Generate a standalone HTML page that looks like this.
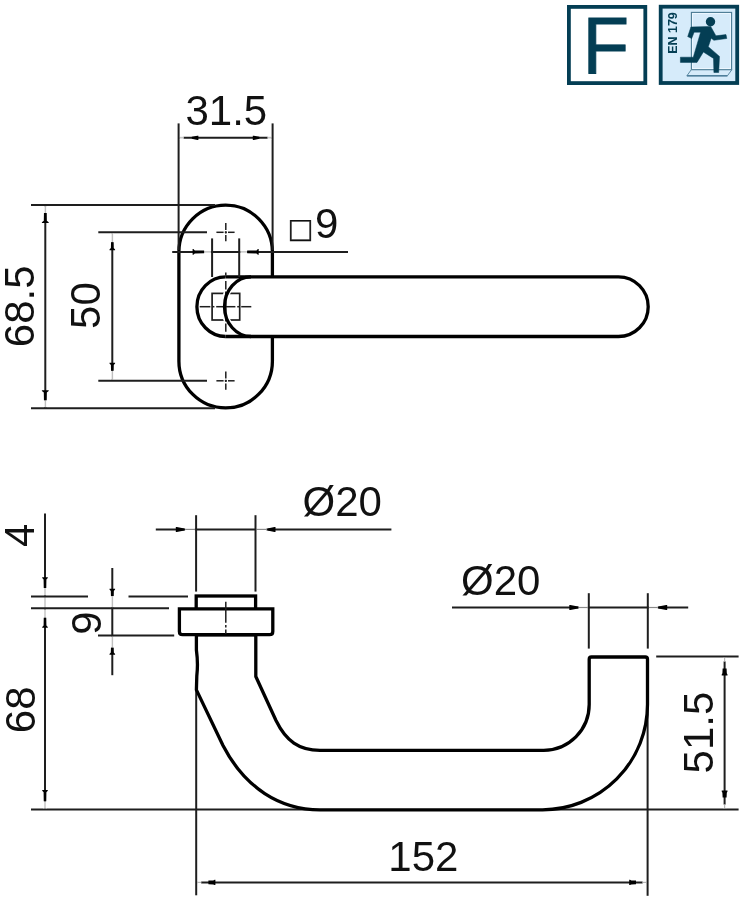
<!DOCTYPE html>
<html lang="en">
<head>
<meta charset="utf-8">
<title>Door handle technical drawing</title>
<style>
html,body{margin:0;padding:0;background:#fff;}
body{width:744px;height:902px;overflow:hidden;}
svg{display:block;font-family:'Liberation Sans', sans-serif;filter:blur(0.4px);}
</style>
</head>
<body>
<svg width="744" height="902" viewBox="0 0 744 902">
<rect width="744" height="902" fill="#fff"/>
<rect x="568.9" y="6.9" width="76.4" height="76.2" fill="#fff" stroke="#043e54" stroke-width="3.8"/>
<text transform="translate(605.9 72.6) scale(0.955 1)" font-size="80" text-anchor="middle" fill="#043e54" stroke="#043e54" stroke-width="0.8">F</text>
<rect x="660.7" y="6.7" width="76.5" height="76.3" fill="#d6ebfa" stroke="#043e54" stroke-width="3.8"/>
<rect x="691.4" y="12.4" width="40.2" height="57.2" fill="none" stroke="#4a7a93" stroke-width="1.1"/>
<rect x="692.6" y="13.6" width="37.8" height="55" fill="none" stroke="#f0faff" stroke-width="0.9"/>
<polygon points="691.2,69.8 731.8,69.8 727.4,75.8 686.9,75.8" fill="#d6ebfa" stroke="#4f7f98" stroke-width="0.9"/>
<line x1="686.9" y1="75.8" x2="727.4" y2="75.8" stroke="#4f7f9b" stroke-width="1.4"/>
<circle cx="710.5" cy="21.7" r="4.7" fill="#043e54"/>
<polygon points="690.9,27.0 710.7,26.4 715.9,35.8 726.0,34.6 726.8,38.5 713.9,40.3 711.2,38.2 708.3,46.7 719.5,56.4 718.7,72.5 713.9,72.5 713.5,58.4 703.4,52.0 697.0,62.4 680.4,62.4 680.4,57.2 693.3,57.2 700.6,32.2 694.1,32.2 691.7,38.6 687.7,36.6" fill="#043e54" stroke="#043e54" stroke-width="0.5" stroke-linejoin="round"/>
<text x="676.5" y="33" font-size="13.6" text-anchor="middle" font-weight="bold" fill="#043e54" transform="rotate(-90 676.5 33)" textLength="41.6" lengthAdjust="spacingAndGlyphs">EN 179</text>
<path d="M178.9,251.84999999999997 A46.749999999999986,46.749999999999986 0 0 1 272.4,251.84999999999997 L272.4,361.15 A46.749999999999986,46.749999999999986 0 0 1 178.9,361.15 Z" fill="#fff" stroke="#000" stroke-width="3.3"/>
<path d="M225.8,276.9 A28.9,29.80000000000001 0 0 0 225.8,336.5" fill="#fff" stroke="#000" stroke-width="3.3"/>
<path d="M225.8,276.9 L618.4,276.9 A29.80000000000001,29.80000000000001 0 0 1 618.4,336.5 L225.8,336.5" fill="#fff" stroke="#000" stroke-width="3.3"/>
<rect x="212.1" y="293.4" width="27.6" height="26.6" fill="none" stroke="#1e1e1e" stroke-width="1.7"/>
<path d="M228.5,290 A27,29.80000000000001 0 0 0 228.5,323" fill="none" stroke="#fff" stroke-width="6.5" transform="translate(0,0)"/>
<line x1="199.7" y1="306.7" x2="210.4" y2="306.7" stroke="#1e1e1e" stroke-width="1.5" />
<line x1="212.3" y1="306.7" x2="214.4" y2="306.7" stroke="#1e1e1e" stroke-width="1.5" />
<line x1="216.2" y1="306.7" x2="235.4" y2="306.7" stroke="#1e1e1e" stroke-width="1.5" />
<line x1="237.2" y1="306.7" x2="239.3" y2="306.7" stroke="#1e1e1e" stroke-width="1.5" />
<line x1="241.2" y1="306.7" x2="251.3" y2="306.7" stroke="#1e1e1e" stroke-width="1.5" />
<line x1="225.8" y1="272.4" x2="225.8" y2="275.6" stroke="#1e1e1e" stroke-width="1.5" />
<line x1="225.8" y1="281.1" x2="225.8" y2="289.4" stroke="#1e1e1e" stroke-width="1.5" />
<line x1="225.8" y1="291.5" x2="225.8" y2="294.5" stroke="#1e1e1e" stroke-width="1.5" />
<line x1="225.8" y1="296.5" x2="225.8" y2="316.5" stroke="#1e1e1e" stroke-width="1.5" />
<line x1="225.8" y1="318.5" x2="225.8" y2="321.5" stroke="#1e1e1e" stroke-width="1.5" />
<line x1="225.8" y1="323.6" x2="225.8" y2="331.8" stroke="#1e1e1e" stroke-width="1.5" />
<path d="M251.0,276.9 A26.5,29.80000000000001 0 0 0 251.0,336.5" fill="none" stroke="#000" stroke-width="3.3"/>
<line x1="216.4" y1="232.3" x2="223.6" y2="232.3" stroke="#1e1e1e" stroke-width="1.5" />
<line x1="224.8" y1="232.3" x2="226.8" y2="232.3" stroke="#1e1e1e" stroke-width="1.5" />
<line x1="228.0" y1="232.3" x2="234.6" y2="232.3" stroke="#1e1e1e" stroke-width="1.5" />
<line x1="225.8" y1="223.10000000000002" x2="225.8" y2="229.9" stroke="#1e1e1e" stroke-width="1.5" />
<line x1="225.8" y1="231.20000000000002" x2="225.8" y2="233.4" stroke="#1e1e1e" stroke-width="1.5" />
<line x1="225.8" y1="234.9" x2="225.8" y2="241.3" stroke="#1e1e1e" stroke-width="1.5" />
<line x1="216.4" y1="380.8" x2="223.6" y2="380.8" stroke="#1e1e1e" stroke-width="1.5" />
<line x1="224.8" y1="380.8" x2="226.8" y2="380.8" stroke="#1e1e1e" stroke-width="1.5" />
<line x1="228.0" y1="380.8" x2="234.6" y2="380.8" stroke="#1e1e1e" stroke-width="1.5" />
<line x1="225.8" y1="371.6" x2="225.8" y2="378.40000000000003" stroke="#1e1e1e" stroke-width="1.5" />
<line x1="225.8" y1="379.7" x2="225.8" y2="381.90000000000003" stroke="#1e1e1e" stroke-width="1.5" />
<line x1="225.8" y1="383.40000000000003" x2="225.8" y2="389.8" stroke="#1e1e1e" stroke-width="1.5" />
<line x1="178.6" y1="123.4" x2="178.6" y2="250" stroke="#1e1e1e" stroke-width="2.0" />
<line x1="272.6" y1="123.4" x2="272.6" y2="250" stroke="#1e1e1e" stroke-width="2.0" />
<line x1="178.6" y1="137.8" x2="272.6" y2="137.8" stroke="#1e1e1e" stroke-width="2.0" />
<line x1="179.79999999999998" y1="137.8" x2="183.6" y2="137.8" stroke="#fff" stroke-width="3.2" />
<line x1="179.6" y1="137.8" x2="183.6" y2="137.8" stroke="#b8b8b8" stroke-width="1.2" />
<polygon points="191.80,138.80 197.40,139.90 198.40,139.90 198.40,135.70 197.40,135.70 191.80,136.80" fill="#000"/>
<line x1="271.40000000000003" y1="137.8" x2="267.6" y2="137.8" stroke="#fff" stroke-width="3.2" />
<line x1="271.6" y1="137.8" x2="267.6" y2="137.8" stroke="#b8b8b8" stroke-width="1.2" />
<polygon points="259.40,136.80 253.80,135.70 252.80,135.70 252.80,139.90 253.80,139.90 259.40,138.80" fill="#000"/>
<text x="226.3" y="125.4" font-size="42" text-anchor="middle" font-weight="normal" fill="#111" >31.5</text>
<line x1="172.2" y1="251.9" x2="348.0" y2="251.9" stroke="#1e1e1e" stroke-width="2.0" />
<line x1="210.9" y1="251.9" x2="204.1" y2="251.9" stroke="#fff" stroke-width="3.2" />
<line x1="211.1" y1="251.9" x2="204.1" y2="251.9" stroke="#b8b8b8" stroke-width="1.2" />
<polygon points="204.10,250.55 194.80,250.40 193.40,249.10 192.60,249.10 192.60,254.70 193.40,254.70 194.80,253.40 204.10,253.25" fill="#000"/>
<line x1="240.39999999999998" y1="251.9" x2="247.2" y2="251.9" stroke="#fff" stroke-width="3.2" />
<line x1="240.2" y1="251.9" x2="247.2" y2="251.9" stroke="#b8b8b8" stroke-width="1.2" />
<polygon points="247.20,253.25 256.50,253.40 257.90,254.70 258.70,254.70 258.70,249.10 257.90,249.10 256.50,250.40 247.20,250.55" fill="#000"/>
<line x1="212.1" y1="238.4" x2="212.1" y2="277" stroke="#1e1e1e" stroke-width="2.0" />
<line x1="239.2" y1="238.4" x2="239.2" y2="277" stroke="#1e1e1e" stroke-width="2.0" />
<text x="290.0" y="241.0" font-size="34.6" text-anchor="start" font-weight="normal" fill="#111" stroke="#111" stroke-width="0.4">□</text>
<text x="326.6" y="237.8" font-size="42" text-anchor="middle" font-weight="normal" fill="#111" >9</text>
<line x1="31.0" y1="205.0" x2="215" y2="205.0" stroke="#1e1e1e" stroke-width="2.0" />
<line x1="31.0" y1="408.2" x2="215" y2="408.2" stroke="#1e1e1e" stroke-width="2.0" />
<line x1="45.3" y1="205.0" x2="45.3" y2="408.2" stroke="#1e1e1e" stroke-width="2.0" />
<line x1="45.3" y1="206.2" x2="45.3" y2="213.0" stroke="#fff" stroke-width="3.2" />
<line x1="45.3" y1="206.0" x2="45.3" y2="213.0" stroke="#b8b8b8" stroke-width="1.2" />
<polygon points="43.95,213.00 43.80,220.80 41.90,222.20 41.90,223.00 48.70,223.00 48.70,222.20 46.80,220.80 46.65,213.00" fill="#000"/>
<line x1="45.3" y1="407.0" x2="45.3" y2="400.2" stroke="#fff" stroke-width="3.2" />
<line x1="45.3" y1="407.2" x2="45.3" y2="400.2" stroke="#b8b8b8" stroke-width="1.2" />
<polygon points="46.65,400.20 46.80,392.40 48.70,391.00 48.70,390.20 41.90,390.20 41.90,391.00 43.80,392.40 43.95,400.20" fill="#000"/>
<text x="34.4" y="306.3" font-size="42" text-anchor="middle" font-weight="normal" fill="#111" transform="rotate(-90 34.4 306.3)" >68.5</text>
<line x1="98.3" y1="232.2" x2="207.0" y2="232.2" stroke="#1e1e1e" stroke-width="2.0" />
<line x1="98.3" y1="380.7" x2="207.0" y2="380.7" stroke="#1e1e1e" stroke-width="2.0" />
<line x1="112.3" y1="232.2" x2="112.3" y2="380.7" stroke="#1e1e1e" stroke-width="2.0" />
<line x1="112.3" y1="233.39999999999998" x2="112.3" y2="242.2" stroke="#fff" stroke-width="3.2" />
<line x1="112.3" y1="233.2" x2="112.3" y2="242.2" stroke="#b8b8b8" stroke-width="1.2" />
<polygon points="111.04,242.20 110.90,248.00 109.50,249.40 109.50,250.20 115.10,250.20 115.10,249.40 113.70,248.00 113.56,242.20" fill="#000"/>
<line x1="112.3" y1="379.5" x2="112.3" y2="370.7" stroke="#fff" stroke-width="3.2" />
<line x1="112.3" y1="379.7" x2="112.3" y2="370.7" stroke="#b8b8b8" stroke-width="1.2" />
<polygon points="113.56,370.70 113.70,364.90 115.10,363.50 115.10,362.70 109.50,362.70 109.50,363.50 110.90,364.90 111.04,370.70" fill="#000"/>
<text x="99.9" y="305.6" font-size="42" text-anchor="middle" font-weight="normal" fill="#111" transform="rotate(-90 99.9 305.6)" >50</text>
<line x1="31.0" y1="809.6" x2="738.6" y2="809.6" stroke="#1e1e1e" stroke-width="2.0" />
<line x1="196.2" y1="690" x2="196.2" y2="895.3" stroke="#1e1e1e" stroke-width="2.0" />
<line x1="647.6" y1="705" x2="647.6" y2="895.8" stroke="#1e1e1e" stroke-width="2.0" />
<path d="M196.4,634.8 L196.4,650 C197.5,658 198.2,664 196.8,676 L196.4,689.9 L223.0,745.5 C245,788 280,809.8 320,809.8 L542.5,809.8 A105,105.3 0 0 0 647.5,704.5 L647.5,659.2 Q647.5,657.0 645.3,657.0 L591.4,657.0 Q589.2,657.0 589.2,659.2 L589.2,704.5 A45.5,45.8 0 0 1 543.7,750.3 L320,750.3 C299,750.3 286,741 276.0,720.5 L255.8,676.5 L255.8,634.8 Z" fill="#fff" stroke="#000" stroke-width="3.3" stroke-linejoin="round"/>
<rect x="196.2" y="596.0" width="59.4" height="14" fill="#fff" stroke="#000" stroke-width="3.3"/>
<path d="M179.4,608.8 L272.8,608.8 L272.8,631.4 Q272.8,634.6 269.6,634.6 L182.6,634.6 Q179.4,634.6 179.4,631.4 Z" fill="#fff" stroke="#000" stroke-width="3.3"/>
<line x1="225.8" y1="601.8" x2="225.8" y2="622.7" stroke="#1e1e1e" stroke-width="1.5" />
<line x1="225.8" y1="625.0" x2="225.8" y2="627.6" stroke="#1e1e1e" stroke-width="1.5" />
<line x1="225.8" y1="629.4" x2="225.8" y2="634.0" stroke="#1e1e1e" stroke-width="1.5" />
<line x1="196.1" y1="515.2" x2="196.1" y2="591.6" stroke="#1e1e1e" stroke-width="2.0" />
<line x1="255.5" y1="515.2" x2="255.5" y2="591.6" stroke="#1e1e1e" stroke-width="2.0" />
<line x1="155.8" y1="529.4" x2="391.4" y2="529.4" stroke="#1e1e1e" stroke-width="2.0" />
<line x1="194.9" y1="529.4" x2="185.1" y2="529.4" stroke="#fff" stroke-width="3.2" />
<line x1="195.1" y1="529.4" x2="185.1" y2="529.4" stroke="#8a8a8a" stroke-width="1.2" />
<polygon points="184.40,528.40 176.80,526.90 175.80,526.90 175.80,531.90 176.80,531.90 184.40,530.40" fill="#000"/>
<line x1="256.7" y1="529.4" x2="266.5" y2="529.4" stroke="#fff" stroke-width="3.2" />
<line x1="256.5" y1="529.4" x2="266.5" y2="529.4" stroke="#8a8a8a" stroke-width="1.2" />
<polygon points="267.50,530.40 274.50,531.90 275.50,531.90 275.50,526.90 274.50,526.90 267.50,528.40" fill="#000"/>
<text x="342.3" y="516.4" font-size="42" text-anchor="middle" font-weight="normal" fill="#111" >Ø20</text>
<line x1="588.8" y1="593.2" x2="588.8" y2="648.6" stroke="#1e1e1e" stroke-width="2.0" />
<line x1="647.8" y1="593.2" x2="647.8" y2="648.6" stroke="#1e1e1e" stroke-width="2.0" />
<line x1="452.0" y1="607.5" x2="688.2" y2="607.5" stroke="#1e1e1e" stroke-width="2.0" />
<line x1="587.5999999999999" y1="607.5" x2="578.8" y2="607.5" stroke="#fff" stroke-width="3.2" />
<line x1="587.8" y1="607.5" x2="578.8" y2="607.5" stroke="#8a8a8a" stroke-width="1.2" />
<polygon points="578.00,606.50 570.30,605.00 569.30,605.00 569.30,610.00 570.30,610.00 578.00,608.50" fill="#000"/>
<line x1="649.0" y1="607.5" x2="657.8" y2="607.5" stroke="#fff" stroke-width="3.2" />
<line x1="648.8" y1="607.5" x2="657.8" y2="607.5" stroke="#8a8a8a" stroke-width="1.2" />
<polygon points="658.40,608.50 666.20,610.00 667.20,610.00 667.20,605.00 666.20,605.00 658.40,606.50" fill="#000"/>
<text x="500.8" y="594.6" font-size="42" text-anchor="middle" font-weight="normal" fill="#111" >Ø20</text>
<line x1="656.2" y1="656.4" x2="738.6" y2="656.4" stroke="#1e1e1e" stroke-width="2.0" />
<line x1="724.6" y1="656.4" x2="724.6" y2="809.6" stroke="#1e1e1e" stroke-width="2.0" />
<line x1="724.6" y1="657.6" x2="724.6" y2="661.4" stroke="#fff" stroke-width="3.2" />
<line x1="724.6" y1="657.4" x2="724.6" y2="661.4" stroke="#b8b8b8" stroke-width="1.2" />
<polygon points="722.62,668.40 722.40,673.20 721.70,674.60 721.70,675.40 727.50,675.40 727.50,674.60 726.80,673.20 726.58,668.40" fill="#000"/>
<line x1="724.6" y1="808.4" x2="724.6" y2="804.6" stroke="#fff" stroke-width="3.2" />
<line x1="724.6" y1="808.6" x2="724.6" y2="804.6" stroke="#b8b8b8" stroke-width="1.2" />
<polygon points="726.58,797.60 726.80,792.80 727.50,791.40 727.50,790.60 721.70,790.60 721.70,791.40 722.40,792.80 722.62,797.60" fill="#000"/>
<text x="713.0" y="732.6" font-size="42" text-anchor="middle" font-weight="normal" fill="#111" transform="rotate(-90 713.0 732.6)" >51.5</text>
<line x1="196.2" y1="882.4" x2="647.6" y2="882.4" stroke="#1e1e1e" stroke-width="2.0" />
<line x1="197.39999999999998" y1="882.4" x2="201.2" y2="882.4" stroke="#fff" stroke-width="3.2" />
<line x1="197.2" y1="882.4" x2="201.2" y2="882.4" stroke="#b8b8b8" stroke-width="1.2" />
<polygon points="208.40,884.20 213.20,884.40 214.60,885.00 215.40,885.00 215.40,879.80 214.60,879.80 213.20,880.40 208.40,880.60" fill="#000"/>
<line x1="646.4" y1="882.4" x2="642.6" y2="882.4" stroke="#fff" stroke-width="3.2" />
<line x1="646.6" y1="882.4" x2="642.6" y2="882.4" stroke="#b8b8b8" stroke-width="1.2" />
<polygon points="636.00,880.60 631.40,880.40 630.00,879.80 629.20,879.80 629.20,885.00 630.00,885.00 631.40,884.40 636.00,884.20" fill="#000"/>
<text x="423.4" y="870.9" font-size="42" text-anchor="middle" font-weight="normal" fill="#111" >152</text>
<line x1="45.0" y1="513.6" x2="45.0" y2="809.6" stroke="#1e1e1e" stroke-width="2.0" />
<line x1="45.0" y1="596.6" x2="45.0" y2="608.2" stroke="#fff" stroke-width="2.2" />
<line x1="45.0" y1="596.6" x2="45.0" y2="608.2" stroke="#b8b8b8" stroke-width="1.2" />
<line x1="45.0" y1="595.4" x2="45.0" y2="587.9" stroke="#fff" stroke-width="3.2" />
<line x1="45.0" y1="595.6" x2="45.0" y2="587.9" stroke="#b8b8b8" stroke-width="1.2" />
<polygon points="46.26,587.90 46.40,579.50 47.80,578.10 47.80,577.30 42.20,577.30 42.20,578.10 43.60,579.50 43.74,587.90" fill="#000"/>
<line x1="45.0" y1="609.4000000000001" x2="45.0" y2="617.8000000000001" stroke="#fff" stroke-width="3.2" />
<line x1="45.0" y1="609.2" x2="45.0" y2="617.8000000000001" stroke="#b8b8b8" stroke-width="1.2" />
<polygon points="43.74,617.80 43.60,625.60 42.20,627.00 42.20,627.80 47.80,627.80 47.80,627.00 46.40,625.60 46.26,617.80" fill="#000"/>
<line x1="45.0" y1="808.4" x2="45.0" y2="801.3000000000001" stroke="#fff" stroke-width="3.2" />
<line x1="45.0" y1="808.6" x2="45.0" y2="801.3000000000001" stroke="#b8b8b8" stroke-width="1.2" />
<polygon points="46.26,801.30 46.40,792.20 47.80,790.80 47.80,790.00 42.20,790.00 42.20,790.80 43.60,792.20 43.74,801.30" fill="#000"/>
<line x1="31.0" y1="596.6" x2="88.0" y2="596.6" stroke="#1e1e1e" stroke-width="2.0" />
<line x1="128.5" y1="596.6" x2="188.0" y2="596.6" stroke="#1e1e1e" stroke-width="2.0" />
<line x1="31.0" y1="608.2" x2="169.0" y2="608.2" stroke="#1e1e1e" stroke-width="2.0" />
<line x1="98.0" y1="635.6" x2="174.2" y2="635.6" stroke="#1e1e1e" stroke-width="2.0" />
<line x1="112.3" y1="568.0" x2="112.3" y2="675.2" stroke="#1e1e1e" stroke-width="2.0" />
<line x1="112.3" y1="607.0" x2="112.3" y2="596.2" stroke="#fff" stroke-width="3.2" />
<line x1="112.3" y1="607.2" x2="112.3" y2="596.2" stroke="#b8b8b8" stroke-width="1.2" />
<polygon points="113.65,596.00 113.80,591.00 115.10,589.60 115.10,588.80 109.50,588.80 109.50,589.60 110.80,591.00 110.95,596.00" fill="#000"/>
<line x1="112.3" y1="636.8000000000001" x2="112.3" y2="647.6" stroke="#fff" stroke-width="3.2" />
<line x1="112.3" y1="636.6" x2="112.3" y2="647.6" stroke="#b8b8b8" stroke-width="1.2" />
<polygon points="110.95,647.80 110.80,652.60 109.50,654.00 109.50,654.80 115.10,654.80 115.10,654.00 113.80,652.60 113.65,647.80" fill="#000"/>
<text x="34.2" y="535.2" font-size="42" text-anchor="middle" font-weight="normal" fill="#111" transform="rotate(-90 34.2 535.2)" >4</text>
<text x="34.6" y="709.8" font-size="42" text-anchor="middle" font-weight="normal" fill="#111" transform="rotate(-90 34.6 709.8)" >68</text>
<text x="100.6" y="623.1" font-size="42" text-anchor="middle" font-weight="normal" fill="#111" transform="rotate(-90 100.6 623.1)" >9</text>
</svg>
</body>
</html>
